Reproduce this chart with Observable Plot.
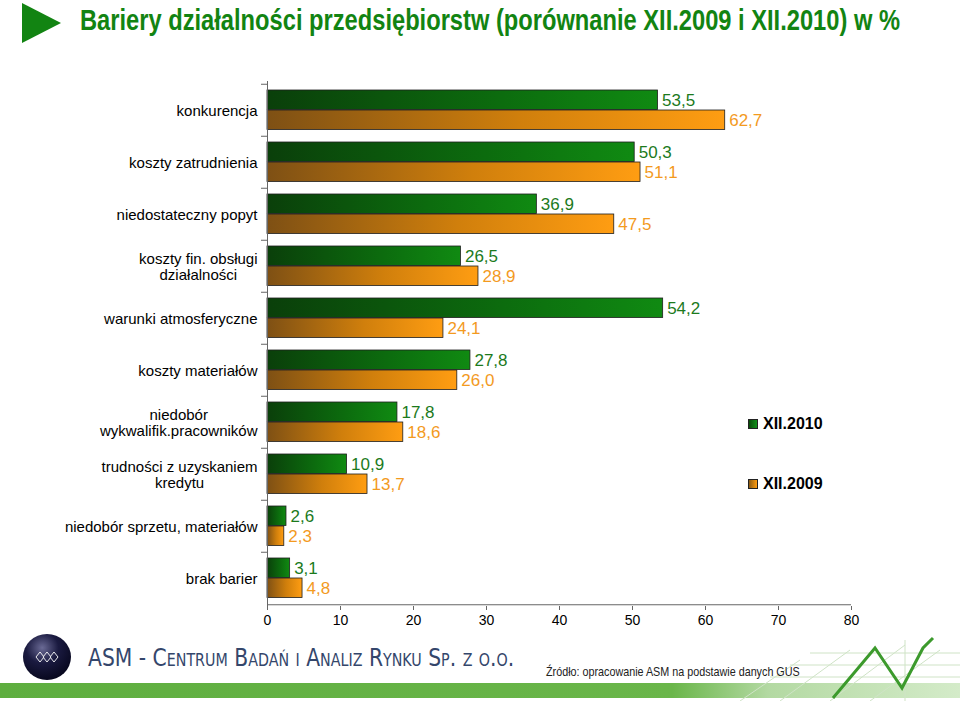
<!DOCTYPE html>
<html>
<head>
<meta charset="utf-8">
<script src="https://cdn.jsdelivr.net/npm/d3@7"></script>
<script src="https://cdn.jsdelivr.net/npm/@observablehq/plot@0.6"></script>
<style>
  body { margin: 0; background: #fff; }
  #wrap { position: relative; width: 960px; height: 701px; overflow: hidden; font-family: "Liberation Sans", Arial, sans-serif; }
  #tri { position: absolute; left: 0; top: 0; }
  #title { position: absolute; left: 80px; top: 4px; font-family: "Liberation Sans Narrow", "Liberation Sans", Arial, sans-serif; font-weight: bold; font-size: 29px; color: #128412; white-space: nowrap; transform-origin: 0 0; }
  #chart { position: absolute; left: 0; top: 70px; }
  .leg { position: absolute; display: flex; align-items: center; font-weight: bold; font-size: 16px; color: #000; }
  .sw { width: 8px; height: 8px; border: 1px solid #222; margin-right: 5px; }
  #foot { position: absolute; left: 0; top: 620px; }
</style>
</head>
<body>
<div id="wrap">
  <svg id="tri" width="70" height="50"><polygon points="22,3 22,43 61,23" fill="#128412"/></svg>
  <div id="title">Bariery działalności przedsiębiorstw (porównanie XII.2009 i XII.2010) w %</div>
  <div id="chart"></div>
  <div class="leg" style="left:748px; top:415px;"><div class="sw" style="background:linear-gradient(90deg,#0a4a0a,#11901a);"></div><span>XII.2010</span></div>
  <div class="leg" style="left:748px; top:475px;"><div class="sw" style="background:linear-gradient(90deg,#8a5a14,#ff9c10);"></div><span>XII.2009</span></div>
  <svg id="foot" width="960" height="81">
    <defs>
      <linearGradient id="fbar" x1="0" x2="1" y1="0" y2="0">
        <stop offset="0" stop-color="#5eae3f"/>
        <stop offset="0.7" stop-color="#6ab64a"/>
        <stop offset="0.8" stop-color="#b3d9a2"/>
        <stop offset="1" stop-color="#d4ebc9"/>
      </linearGradient>
      <radialGradient id="logoG" cx="0.4" cy="0.3" r="0.75">
        <stop offset="0" stop-color="#6a6a95"/>
        <stop offset="0.45" stop-color="#1a1a40"/>
        <stop offset="1" stop-color="#05051a"/>
      </radialGradient>
    </defs>
    <rect x="0" y="63" width="960" height="15" fill="url(#fbar)"/>
    <g stroke="#cfe3c6" stroke-width="1" fill="none">
      <line x1="740" y1="81" x2="800" y2="40"/>
      <line x1="780" y1="81" x2="850" y2="30"/>
      <line x1="830" y1="81" x2="905" y2="25"/>
      <line x1="870" y1="81" x2="940" y2="30"/>
      <line x1="810" y1="33" x2="960" y2="33"/>
      <line x1="790" y1="45" x2="960" y2="45"/>
      <line x1="770" y1="57" x2="960" y2="57"/>
      <line x1="905" y1="20" x2="905" y2="81"/>
    </g>
    <polyline points="833,78 875,28 902,68 923,28 933,18" stroke="#3c9a2c" stroke-width="3" fill="none"/>
    <ellipse cx="47" cy="37" rx="24" ry="23" fill="url(#logoG)"/>
    <g stroke="#ffffff" stroke-width="1" fill="none" opacity="0.9">
      <polygon points="36,37 40,32 44,37 40,42"/>
      <polygon points="43,37 47,32 51,37 47,42"/>
      <polygon points="50,37 54,32 58,37 54,42"/>
    </g>
    <text id="asm" x="0" y="0" font-family="DejaVu Sans, Verdana, sans-serif" font-size="25" fill="#34466b" style="font-variant: small-caps">ASM - Centrum Badań i Analiz Rynku Sp. z o.o.</text>
    <text id="src" x="0" y="0" font-family="Liberation Sans, Arial, sans-serif" font-size="12" fill="#222">Źródło: opracowanie ASM  na podstawie danych GUS</text>
  </svg>
</div>
<script>
const categories = [
  "konkurencja",
  "koszty zatrudnienia",
  "niedostateczny popyt",
  "koszty fin. obsługi\ndziałalności",
  "warunki atmosferyczne",
  "koszty materiałów",
  "niedobór\nwykwalifik.pracowników",
  "trudności z uzyskaniem\nkredytu",
  "niedobór sprzetu, materiałów",
  "brak barier"
];
const series = ["XII.2010", "XII.2009"];
const values2010 = [53.5, 50.3, 36.9, 26.5, 54.2, 27.8, 17.8, 10.9, 2.6, 3.1];
const values2009 = [62.7, 51.1, 47.5, 28.9, 24.1, 26.0, 18.6, 13.7, 2.3, 4.8];
const xTicks = [0, 10, 20, 30, 40, 50, 60, 70, 80];

const rows2010 = categories.map((c, i) => ({category: c, series: series[0], value: values2010[i]}));
const rows2009 = categories.map((c, i) => ({category: c, series: series[1], value: values2009[i]}));
const fmt = v => v.toFixed(1).replace(".", ",");
const narrow = "'Liberation Sans Narrow', 'Liberation Sans', Arial, sans-serif";

const plot = Plot.plot({
  width: 960,
  height: 560,
  marginTop: 11,
  marginBottom: 24,
  marginLeft: 267,
  marginRight: 109,
  style: {fontFamily: "'Liberation Sans', Arial, sans-serif", fontSize: "14px", color: "#000", background: "transparent"},
  x: {domain: [0, 80], ticks: xTicks, label: null},
  y: {domain: categories, padding: 0, label: null},
  marks: [
    Plot.barX(rows2010, {x: "value", y: "category", insetTop: 6, insetBottom: 26.5, fill: "url(#grad2010)", stroke: "#1e1e1e", strokeWidth: 0.8}),
    Plot.barX(rows2009, {x: "value", y: "category", insetTop: 26, insetBottom: 6.5, fill: "url(#grad2009)", stroke: "#1e1e1e", strokeWidth: 0.8}),
    Plot.text(rows2010, {x: "value", y: "category", text: d => fmt(d.value), dx: 4, dy: -10, textAnchor: "start", fill: "#1c7a1c", fontSize: 17, fontFamily: narrow}),
    Plot.text(rows2009, {x: "value", y: "category", text: d => fmt(d.value), dx: 4, dy: 10, textAnchor: "start", fill: "#f39a1e", fontSize: 17, fontFamily: narrow}),
    Plot.ruleX([0], {stroke: "#666"}),
    Plot.ruleY([categories[categories.length - 1]], {y: d => d, dy: 26.25, stroke: "#666"}),
    Plot.ruleY(categories, {y: d => d, x1: () => 0, x2: () => 0, insetLeft: -6, dy: -26.25, stroke: "#666"}),
    Plot.axisY({tickSize: 0, tickPadding: 10, fontSize: 15, lineHeight: 1.1}),
    Plot.axisX({ticks: xTicks, tickSize: 4, tickPadding: 5, fontSize: 14, stroke: "#666"})
  ]
});

const svgNS = "http://www.w3.org/2000/svg";
const defs = document.createElementNS(svgNS, "defs");
defs.innerHTML = `
  <linearGradient id="grad2010" x1="0" x2="1" y1="0" y2="0">
    <stop offset="0" stop-color="#0a3f0a"/>
    <stop offset="0.6" stop-color="#0c6c0e"/>
    <stop offset="1" stop-color="#108a12"/>
  </linearGradient>
  <linearGradient id="grad2009" x1="0" x2="1" y1="0" y2="0">
    <stop offset="0" stop-color="#7e5014"/>
    <stop offset="0.55" stop-color="#d07f0c"/>
    <stop offset="1" stop-color="#ff9d12"/>
  </linearGradient>`;
plot.insertBefore(defs, plot.firstChild);
document.getElementById("chart").appendChild(plot);

// center multi-line category labels like the original
plot.querySelectorAll('g[aria-label="y-axis tick label"] text').forEach(t => {
  const spans = Array.from(t.querySelectorAll("tspan"));
  if (spans.length > 1) {
    const w = Math.max(...spans.map(s => s.getComputedTextLength()));
    t.setAttribute("text-anchor", "middle");
    spans.forEach(s => s.setAttribute("x", -w / 2));
  }
});

// fit title width
const title = document.getElementById("title");
const tw = title.getBoundingClientRect().width;
title.style.transform = `scaleX(${820 / tw})`;

// fit footer texts horizontally
function fitText(id, x, y, w) {
  const el = document.getElementById(id);
  const nat = el.getComputedTextLength();
  el.setAttribute("transform", `translate(${x},${y}) scale(${w / nat},1)`);
}
fitText("asm", 88, 46, 432);
fitText("src", 546, 56, 254);
</script>
</body>
</html>
